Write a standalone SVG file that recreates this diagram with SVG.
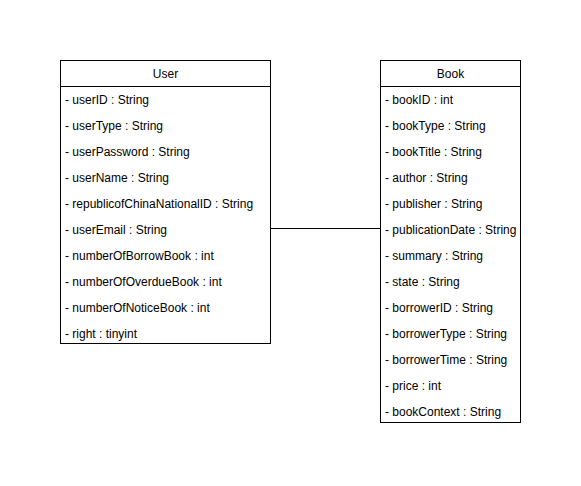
<svg xmlns="http://www.w3.org/2000/svg" width="581" height="486" viewBox="0 0 581 486">
<style>
.box{fill:#fff;stroke:#000;stroke-width:1}
.ln{stroke:#000;stroke-width:1;fill:none}
text{font-family:"Liberation Sans",Arial,sans-serif;font-size:12px;fill:#000}
.h{text-anchor:middle}
</style>
<rect width="581" height="486" fill="#fff"/>
<g id="connectors">
<line class="ln" x1="270.5" y1="228.5" x2="380.5" y2="228.5"/>
</g>
<g id="User">
<rect class="box" x="60.5" y="60.5" width="210" height="283"/>
<line class="ln" x1="60.5" y1="86.5" x2="270.5" y2="86.5"/>
<text class="h" x="165.5" y="78">User</text>
<text x="65" y="104">- userID : String</text>
<text x="65" y="130">- userType : String</text>
<text x="65" y="156">- userPassword : String</text>
<text x="65" y="182">- userName : String</text>
<text x="65" y="208">- republicofChinaNationalID : String</text>
<text x="65" y="234">- userEmail : String</text>
<text x="65" y="260">- numberOfBorrowBook : int</text>
<text x="65" y="286">- numberOfOverdueBook : int</text>
<text x="65" y="312">- numberOfNoticeBook : int</text>
<text x="65" y="338">- right : tinyint</text>
</g>
<g id="Book">
<rect class="box" x="380.5" y="60.5" width="140" height="362"/>
<line class="ln" x1="380.5" y1="86.5" x2="520.5" y2="86.5"/>
<text class="h" x="450.5" y="78">Book</text>
<text x="385" y="104">- bookID : int</text>
<text x="385" y="130">- bookType : String</text>
<text x="385" y="156">- bookTitle : String</text>
<text x="385" y="182">- author : String</text>
<text x="385" y="208">- publisher : String</text>
<text x="385" y="234">- publicationDate : String</text>
<text x="385" y="260">- summary : String</text>
<text x="385" y="286">- state : String</text>
<text x="385" y="312">- borrowerID : String</text>
<text x="385" y="338">- borrowerType : String</text>
<text x="385" y="364">- borrowerTime : String</text>
<text x="385" y="390">- price : int</text>
<text x="385" y="416">- bookContext : String</text>
</g>
</svg>
